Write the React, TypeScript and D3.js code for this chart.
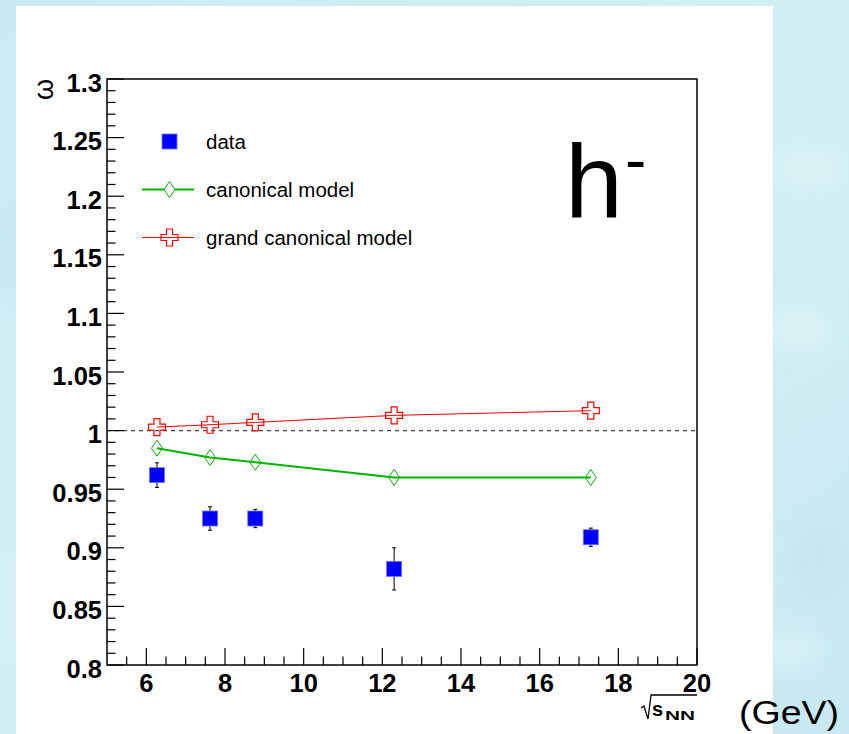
import React from "react";
import * as d3 from "d3";

const energies = [6.27, 7.62, 8.77, 12.3, 17.3];
const dataOmega = [0.962, 0.925, 0.925, 0.882, 0.909];
const dataErr = [0.0105, 0.01, 0.0078, 0.018, 0.0078];
const canonical = [0.985, 0.977, 0.973, 0.960, 0.960];
const grandCanonical = [1.003, 1.005, 1.007, 1.013, 1.017];
const xTicks = [6, 8, 10, 12, 14, 16, 18, 20];
const yTicks = [0.8, 0.85, 0.9, 0.95, 1.0, 1.05, 1.1, 1.15, 1.2, 1.25, 1.3];
const yTickLabels = ["0.8", "0.85", "0.9", "0.95", "1", "1.05", "1.1", "1.15", "1.2", "1.25", "1.3"];
const legendLabels = ["data", "canonical model", "grand canonical model"];

const W = 849;
const H = 734;
const L = 107, R = 697, T = 79, B = 665;

const x = d3.scaleLinear().domain([5, 20]).range([L, R]);
const y = d3.scaleLinear().domain([0.8, 1.3]).range([B, T]);

const FONT = "'Liberation Sans', Arial, Helvetica, sans-serif";
const GREEN = "#00b400";
const RED = "#ff0000";
const BLUE = "#0000ff";

function diamondPath(cx: number, cy: number) {
  const hw = 5.5, hh = 8;
  return `M${cx},${cy - hh}L${cx + hw},${cy}L${cx},${cy + hh}L${cx - hw},${cy}Z`;
}
function crossPath(cx: number, cy: number) {
  const s = 8.5, a = 3;
  return `M${cx - a},${cy - s}H${cx + a}V${cy - a}H${cx + s}V${cy + a}H${cx + a}V${cy + s}H${cx - a}V${cy + a}H${cx - s}V${cy - a}H${cx - a}Z`;
}

export default function App() {
  const minorX = d3.range(5.5, 20, 0.5).filter((v) => Math.abs(v / 2 - Math.round(v / 2)) > 1e-6);
  const minorY = d3.range(0, 51).map((i) => 0.8 + i * 0.01).filter((v, i) => i % 5 !== 0);
  const line = d3.line<number>().x((_, i) => x(energies[i])).y((d) => y(d));

  const legendY = [141.5, 189.5, 237.5];

  return (
    <svg width={W} height={H} style={{ position: "absolute", left: 0, top: 0 }} fontFamily={FONT}>
      <defs>
        <filter id="blur" x="-50%" y="-50%" width="200%" height="200%">
          <feGaussianBlur stdDeviation="10" />
        </filter>
        <linearGradient id="bg" x1="0" y1="0" x2="1" y2="1">
          <stop offset="0" stopColor="#c9ecf3" />
          <stop offset="0.5" stopColor="#d2f0f4" />
          <stop offset="1" stopColor="#c8e9f2" />
        </linearGradient>
      </defs>
      <rect x={0} y={0} width={W} height={H} fill="url(#bg)" />
      <g filter="url(#blur)" opacity={0.55}>
        <ellipse cx={810} cy={170} rx={35} ry={20} fill="#e2f5f8" />
        <ellipse cx={800} cy={330} rx={35} ry={25} fill="#e2f5f6" />
        <ellipse cx={820} cy={560} rx={30} ry={40} fill="#bfe3ee" />
        <ellipse cx={790} cy={650} rx={35} ry={20} fill="#e0f5f8" />
        <ellipse cx={8} cy={250} rx={10} ry={50} fill="#bde4ee" />
        <ellipse cx={8} cy={600} rx={10} ry={50} fill="#e0f4f6" />
      </g>
      <rect x={16} y={6} width={757} height={H - 6} fill="#ffffff" />

      {/* dashed reference line */}
      <line x1={L} x2={R} y1={y(1)} y2={y(1)} stroke="#444" strokeWidth={1.2} strokeDasharray="4,4" />

      {/* frame */}
      <rect x={L} y={T} width={R - L} height={B - T} fill="none" stroke="#000" strokeWidth={1.5} />

      {/* y ticks */}
      {yTicks.map((v) => (
        <line key={"ym" + v} x1={L} x2={L + 17} y1={y(v)} y2={y(v)} stroke="#000" strokeWidth={1.2} />
      ))}
      {minorY.map((v) => (
        <line key={"yn" + v} x1={L} x2={L + 8.5} y1={y(v)} y2={y(v)} stroke="#000" strokeWidth={1.2} />
      ))}
      {yTicks.map((v, i) => (
        <text key={"yl" + v} x={L - 5} y={y(v) + 12.5} textAnchor="end" fontSize={25.5} fontWeight="bold">
          {yTickLabels[i]}
        </text>
      ))}

      {/* x ticks */}
      {xTicks.map((v) => (
        <line key={"xm" + v} x1={x(v)} x2={x(v)} y1={B} y2={B - 17} stroke="#000" strokeWidth={1.2} />
      ))}
      {minorX.map((v) => (
        <line key={"xn" + v} x1={x(v)} x2={x(v)} y1={B} y2={B - 8.5} stroke="#000" strokeWidth={1.2} />
      ))}
      {xTicks.map((v) => (
        <text key={"xl" + v} x={x(v)} y={692} textAnchor="middle" fontSize={25.5} fontWeight="bold">
          {v}
        </text>
      ))}

      {/* axis titles */}
      <text transform="translate(53,79) rotate(-90)" textAnchor="end" fontSize={27}>ω</text>
      <g>
        <path d="M641,708 L644,706 L648,719 L651,695 L697,695" fill="none" stroke="#000" strokeWidth={1.3} />
        <text x={652} y={716} fontSize={20} fontWeight="bold">s</text>
        <text x={665} y={720} fontSize={12.5} fontWeight="bold" textLength={30} lengthAdjust="spacingAndGlyphs">NN</text>
        <text x={739} y={724} fontSize={34} textLength={100} lengthAdjust="spacingAndGlyphs">(GeV)</text>
      </g>

      {/* models */}
      <path d={line(grandCanonical) || ""} fill="none" stroke={RED} strokeWidth={1} />
      <path d={line(canonical) || ""} fill="none" stroke={GREEN} strokeWidth={2} />
      {canonical.map((v, i) => (
        <path key={"c" + i} d={diamondPath(x(energies[i]), y(v))} fill="none" stroke={GREEN} strokeWidth={1} />
      ))}
      {grandCanonical.map((v, i) => (
        <path key={"g" + i} d={crossPath(x(energies[i]), y(v))} fill="none" stroke={RED} strokeWidth={1.2} />
      ))}

      {/* data */}
      {dataOmega.map((v, i) => {
        const cx = x(energies[i]);
        const e = dataErr[i];
        return (
          <g key={"d" + i}>
            <line x1={cx} x2={cx} y1={y(v - e)} y2={y(v + e)} stroke="#000" strokeWidth={1} />
            <line x1={cx - 2} x2={cx + 2} y1={y(v - e)} y2={y(v - e)} stroke="#000" strokeWidth={1} />
            <line x1={cx - 2} x2={cx + 2} y1={y(v + e)} y2={y(v + e)} stroke="#000" strokeWidth={1} />
            <rect x={cx - 7.5} y={y(v) - 7.5} width={15} height={15} fill={BLUE} stroke="#6f6fff" strokeWidth={0.8} />
          </g>
        );
      })}

      {/* legend */}
      <rect x={162} y={legendY[0] - 7.5} width={15} height={15} fill={BLUE} stroke="#6f6fff" strokeWidth={0.8} />
      <line x1={142} x2={194} y1={legendY[1]} y2={legendY[1]} stroke={GREEN} strokeWidth={2} />
      <path d={diamondPath(169.5, legendY[1])} fill="#fff" stroke={GREEN} strokeWidth={1} />
      <line x1={142} x2={194} y1={legendY[2]} y2={legendY[2]} stroke={RED} strokeWidth={1} />
      <path d={crossPath(169.5, legendY[2])} fill="none" stroke={RED} strokeWidth={1.2} />
      {legendLabels.map((t, i) => (
        <text key={t} x={206} y={legendY[i] + 7.5} fontSize={20.5}>
          {t}
        </text>
      ))}

      {/* h- label */}
      <text x={565} y={217} fontSize={104}>h</text>
      <text x={625} y={182} fontSize={64}>-</text>
    </svg>
  );
}
